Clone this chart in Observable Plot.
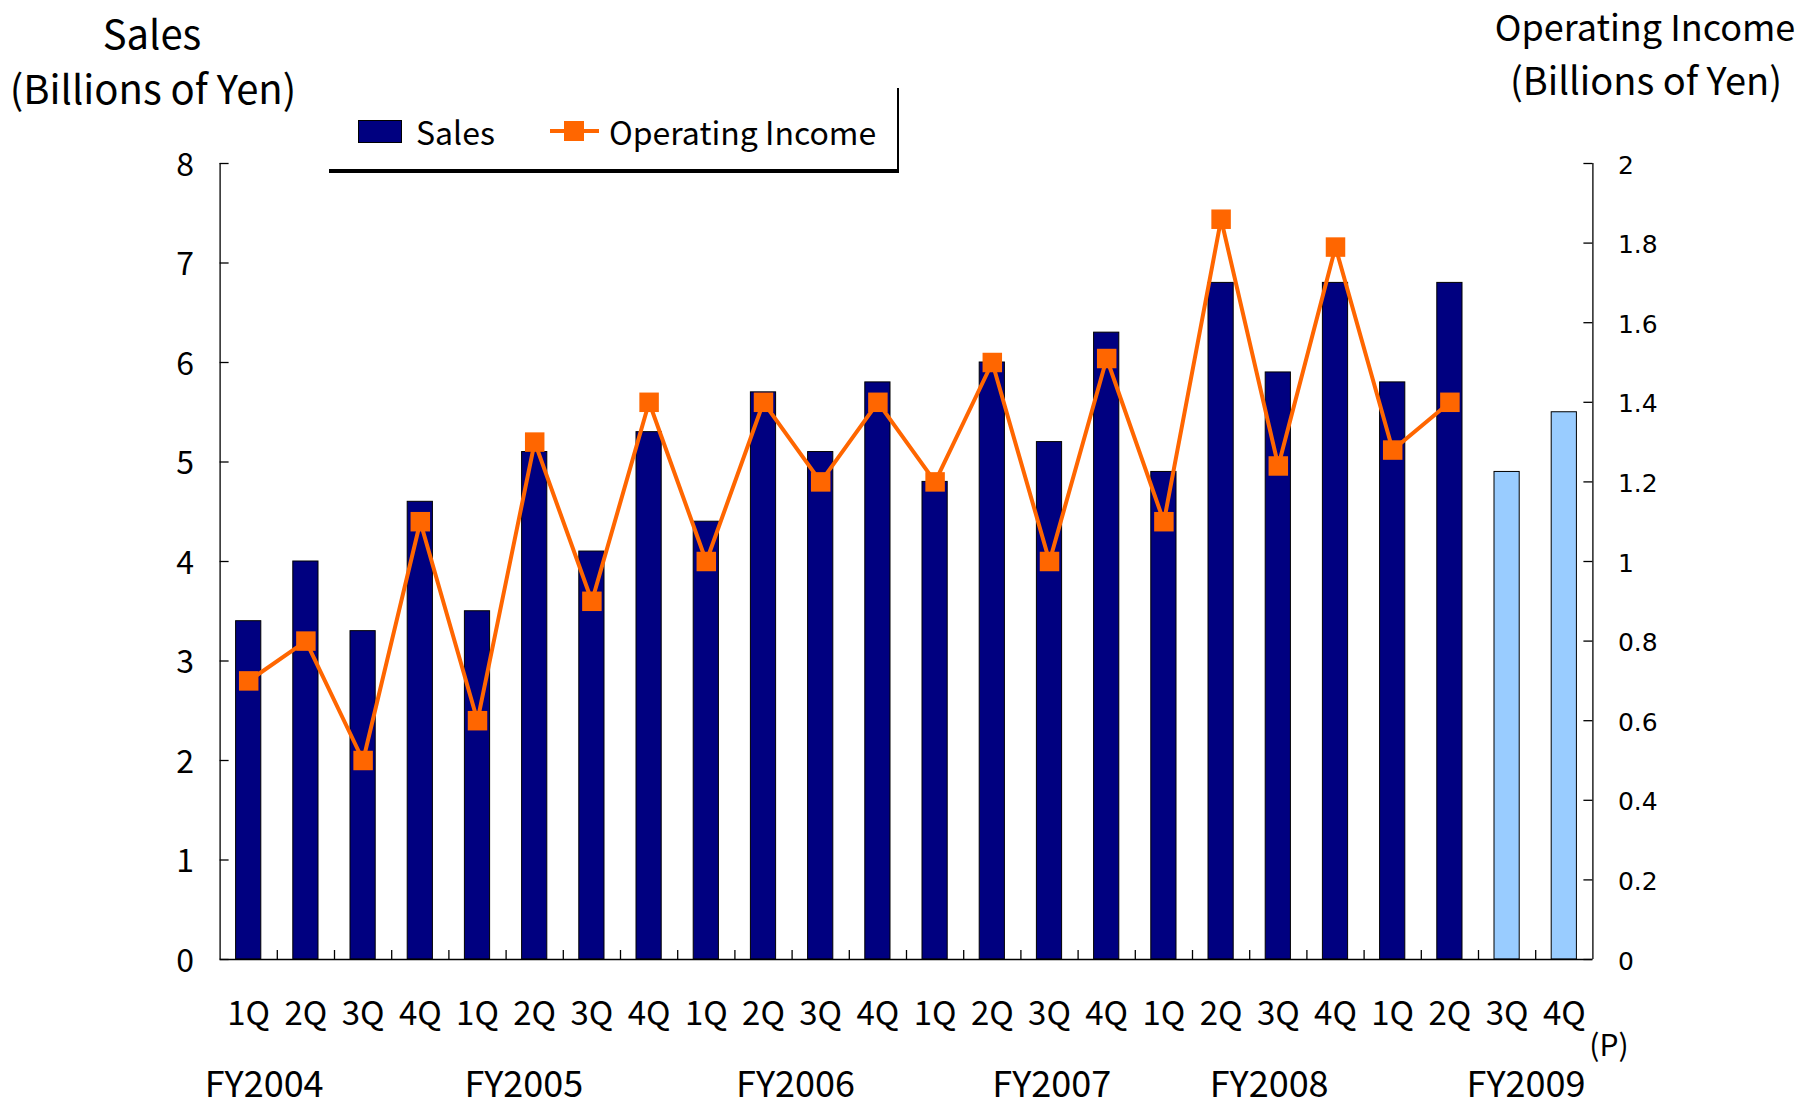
<!DOCTYPE html>
<html>
<head>
<meta charset="utf-8">
<script src="https://cdn.jsdelivr.net/npm/d3@7"></script>
<script src="https://cdn.jsdelivr.net/npm/@observablehq/plot@0.6"></script>
<style>
  html, body { margin: 0; padding: 0; background: #fff; }
  #wrap { position: relative; width: 1812px; height: 1106px; font-family: "Noto Sans CJK JP", "Noto Sans", sans-serif; color: #000; }
  .lbl { position: absolute; transform: translate(-50%, -50%); white-space: nowrap; line-height: 1.2; }
  #legend { position: absolute; left: 329px; top: 88px; width: 570px; height: 85px; box-sizing: border-box;
            border-right: 2.5px solid #000; border-bottom: 4px solid #000; background: #fff; }
  #legend .sw { position: absolute; left: 29px; top: 32px; width: 44px; height: 23px; background: #000080; border: 1px solid #000; box-sizing: border-box; }
  #legend .t { position: absolute; top: 43px; transform: translateY(-50%); font-size: 32px; line-height: 1; white-space: nowrap; }
  #legend .ln { position: absolute; left: 221px; top: 41px; width: 49px; height: 4px; background: #FF6600; }
  #legend .mk { position: absolute; left: 235px; top: 33px; width: 20px; height: 20px; background: #FF6600; }
</style>
</head>
<body>
<div id="wrap">
  <div id="chart"></div>
  <div class="lbl" style="left:152px; top:32px; font-size:40px;">Sales</div>
  <div class="lbl" style="left:153px; top:87px; font-size:40px;">(Billions of Yen)</div>
  <div class="lbl" style="left:1645px; top:26px; font-size:36px;">Operating Income</div>
  <div class="lbl" style="left:1646px; top:79px; font-size:38px;">(Billions of Yen)</div>
  <div id="legend">
    <div class="sw"></div>
    <div class="t" style="left:87px;">Sales</div>
    <div class="ln"></div>
    <div class="mk"></div>
    <div class="t" style="left:280px;">Operating Income</div>
  </div>
</div>
<script>
// ---- data ----
const quarters = ["1Q","2Q","3Q","4Q","1Q","2Q","3Q","4Q","1Q","2Q","3Q","4Q",
                  "1Q","2Q","3Q","4Q","1Q","2Q","3Q","4Q","1Q","2Q","3Q","4Q"];
const fiscalYears = ["FY2004","FY2005","FY2006","FY2007","FY2008","FY2009"];
// Sales, billions of yen (left axis)
const sales = [3.4, 4.0, 3.3, 4.6,  3.5, 5.1, 4.1, 5.3,  4.4, 5.7, 5.1, 5.8,
               4.8, 6.0, 5.2, 6.3,  4.9, 6.8, 5.9, 6.8,  5.8, 6.8, 4.9, 5.5];
// last two quarters are projections (P)
const projected = [false,false,false,false, false,false,false,false, false,false,false,false,
                   false,false,false,false, false,false,false,false, false,false,true,true];
// Operating income, billions of yen (right axis)
const operatingIncome = [0.70, 0.80, 0.50, 1.10,  0.60, 1.30, 0.90, 1.40,  1.00, 1.40, 1.20, 1.40,
                         1.20, 1.50, 1.00, 1.51,  1.10, 1.86, 1.24, 1.79,  1.28, 1.40];
const leftTicks = [0, 1, 2, 3, 4, 5, 6, 7, 8];
const rightTicks = [0, 0.2, 0.4, 0.6, 0.8, 1, 1.2, 1.4, 1.6, 1.8, 2];
// quarter index under which each fiscal-year label is centred
const fyLabelAt = [0.27, 4.81, 9.56, 14.04, 17.84, 22.33];

// ---- build table ----
const ratio = 8 / 2; // right axis max 2 ↔ left axis max 8
const rows = quarters.map((q, i) => ({i, q, sales: sales[i], projected: projected[i]}));
const oiRows = operatingIncome.map((v, i) => ({i, oi: v}));
const n = quarters.length;

const font = "'Noto Sans CJK JP', 'Noto Sans', sans-serif";
const navy = "#000080", light = "#99CCFF", orange = "#FF6600";

const chart = Plot.plot({
  width: 1812,
  height: 1106,
  marginLeft: 219.6,
  marginRight: 219.6,
  marginTop: 163,
  marginBottom: 147,
  x: {type: "linear", domain: [0, n], axis: null},
  y: {type: "linear", domain: [0, 8], axis: null},
  style: {background: "white", fontFamily: font, overflow: "visible"},
  marks: [
    Plot.rect(rows, {
      x1: d => d.i, x2: d => d.i + 1, y1: 0, y2: "sales",
      insetLeft: 16, insetRight: 16,
      fill: d => d.projected ? light : navy,
      stroke: "#000", strokeWidth: 1
    }),
    // axis lines
    Plot.ruleX([0, n], {y1: 0, y2: 8, stroke: "#000", strokeWidth: 1.3}),
    Plot.ruleY([0], {x1: 0, x2: n, stroke: "#000", strokeWidth: 1.3}),
    // inward ticks, left
    Plot.ruleY(leftTicks, {y: d => d, x1: 0, x2: 0, insetRight: -9, stroke: "#000", strokeWidth: 1.3}),
    // inward ticks, right
    Plot.ruleY(rightTicks, {y: d => d * ratio, x1: n, x2: n, insetLeft: -9, stroke: "#000", strokeWidth: 1.3}),
    // category boundary ticks
    Plot.ruleX(d3.range(1, n), {x: d => d, y1: 0, y2: 0, insetTop: -9, stroke: "#000", strokeWidth: 1.3}),
    // tick labels
    Plot.text(leftTicks, {x: 0, y: d => d, text: d => String(d), textAnchor: "end", dx: -26, dy: 2, fontSize: 32, fontFamily: font}),
    Plot.text(rightTicks, {x: n, y: d => d * ratio, text: d => String(d), textAnchor: "start", dx: 25, dy: 2, fontSize: 25, fontFamily: "'DejaVu Sans', sans-serif"}),
    // operating income line
    Plot.line(oiRows, {x: d => d.i + 0.5, y: d => d.oi * ratio, stroke: orange, strokeWidth: 4}),
    Plot.dot(oiRows, {x: d => d.i + 0.5, y: d => d.oi * ratio, symbol: "square", r: 11, fill: orange, stroke: "none"}),
    // category labels
    Plot.text(rows, {x: d => d.i + 0.5, text: "q", frameAnchor: "bottom", dy: 65, fontSize: 33, fontFamily: font}),
    Plot.text(fiscalYears, {x: (d, i) => fyLabelAt[i] + 0.5, text: d => d, frameAnchor: "bottom", dy: 137, fontSize: 36, fontFamily: font}),
    Plot.text(["(P)"], {x: n, text: d => d, frameAnchor: "bottom", dy: 96, dx: 16, fontSize: 30, fontFamily: font})
  ]
});
document.getElementById("chart").appendChild(chart);
</script>
</body>
</html>
